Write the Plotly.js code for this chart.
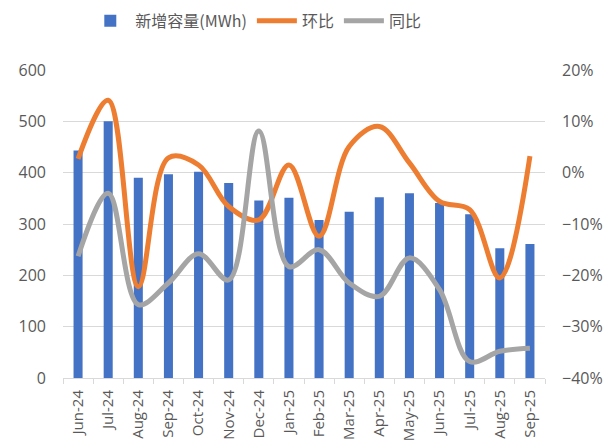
<!DOCTYPE html>
<html><head><meta charset="utf-8">
<script src="https://cdn.plot.ly/plotly-3.0.1.min.js"></script>
<style>body{margin:0;background:#fff}#c{width:614px;height:448px}</style>
</head><body><div id="c"></div>
<script>
const months = ["Jun-24","Jul-24","Aug-24","Sep-24","Oct-24","Nov-24","Dec-24","Jan-25","Feb-25","Mar-25","Apr-25","May-25","Jun-25","Jul-25","Aug-25","Sep-25"];
const capacity = [443,500,390,397,402,380,346,351,308,324,352,360,341,319,253,261];
const mom = [0.027,0.141,-0.222,0.029,0.015,-0.066,-0.092,0.015,-0.124,0.051,0.090,0.019,-0.056,-0.072,-0.205,0.032];
const yoy = [-0.163,-0.040,-0.257,-0.215,-0.158,-0.209,0.081,-0.183,-0.150,-0.215,-0.241,-0.166,-0.228,-0.368,-0.348,-0.342];

const fam = "'Open Sans','Noto Sans CJK SC',sans-serif";
const txt = '#595959';
const data = [
  {type:'bar', x:months, y:capacity, name:'新增容量(MWh)', marker:{color:'#4472C4'}, yaxis:'y'},
  {type:'scatter', mode:'lines', x:months, y:mom, name:'环比', line:{color:'#ED7D31', width:5, shape:'spline', smoothing:1}, yaxis:'y2'},
  {type:'scatter', mode:'lines', x:months, y:yoy, name:'同比', line:{color:'#A5A5A5', width:5, shape:'spline', smoothing:1}, yaxis:'y2'}
];
const layout = {
  width:614, height:448,
  margin:{l:63, r:69, t:70, b:70, autoexpand:false},
  paper_bgcolor:'#fff', plot_bgcolor:'#fff',
  font:{family:fam, size:15, color:txt},
  bargap:0.7,
  showlegend:true,
  legend:{orientation:'h', x:0.40, xanchor:'center', y:1.215, yanchor:'top', font:{family:"'Noto Sans CJK SC',sans-serif", size:16, color:txt}, itemwidth:40, traceorder:'normal'},
  xaxis:{type:'category', tickangle:-90, showgrid:false, showline:true, linecolor:'#D9D9D9', linewidth:1,
         ticks:'outside', tickson:'boundaries', ticklen:5, tickcolor:'#D9D9D9', ticklabelstandoff:5, tickfont:{size:15, color:txt}},
  yaxis:{range:[0,600], dtick:100, showgrid:true, gridcolor:'#D9D9D9', zeroline:false, showline:false, ticks:'', ticklabelstandoff:16, tickfont:{size:16, color:txt}},
  yaxis2:{range:[-0.4,0.2], dtick:0.1, tickformat:'.0%', overlaying:'y', side:'right', showgrid:false, zeroline:false, showline:false, ticklabelstandoff:16, tickfont:{size:16, color:txt}}
};
Plotly.newPlot('c', data, layout, {displayModeBar:false, staticPlot:true});
</script></body></html>
